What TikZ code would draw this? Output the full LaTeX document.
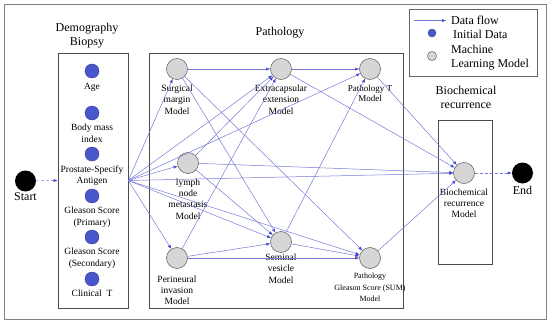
\documentclass[tikz,border=0pt]{standalone}
\usepackage{fontspec}
\setmainfont{Liberation Serif}
\usetikzlibrary{arrows.meta, positioning}
\definecolor{FlowBlue}{RGB}{118,122,214}
\definecolor{TipBlue}{RGB}{66,72,204}
\definecolor{DotBlue}{RGB}{74,86,204}
\definecolor{ModelGray}{RGB}{214,214,214}
\definecolor{FrameGray}{RGB}{130,130,130}

\begin{document}
\begin{tikzpicture}[x=1pt, y=-1pt, >={Latex[length=4pt,width=3.2pt,color=TipBlue]},
    panel/.style={draw=black!70, line width=0.6pt, inner sep=0pt},
    model/.style={circle, draw=black!65, line width=0.5pt, fill=ModelGray, minimum size=21pt, inner sep=0pt},
    datum/.style={circle, draw=DotBlue!70!black, line width=0.4pt, fill=DotBlue, minimum size=14pt, inner sep=0pt},
    terminal/.style={circle, fill=black, minimum size=21pt, inner sep=0pt},
    title/.style={font=\fontsize{12}{14.5}\selectfont, align=center, inner sep=0pt},
    caption/.style={font=\fontsize{9.5}{11.4}\selectfont, align=center, inner sep=1pt},
    flow/.style={->, draw=FlowBlue, line width=0.5pt}]
    \useasboundingbox (0,0) rectangle (550,324);
    % Outer frame
    \draw [FrameGray, line width=0.8pt] (4,4) rectangle (546.5,319.5);
    % Panels
    \node [panel, minimum width=70pt, minimum height=255pt] (demo) at (93,180.5) {};
    \node [panel, minimum width=254pt, minimum height=255pt] (patho) at (276,180.5) {};
    \node [panel, minimum width=54pt, minimum height=144pt] (recur) at (465,192) {};
    \node [title] (demoT) at (87,35.5) {Demography\\Biopsy};
    \node [title] (pathoT) at (280,33) {Pathology};
    \node [title, font=\fontsize{12}{14}\selectfont] (recurT) at (466,97) {Biochemical\\recurrence};
    % Initial data
    \node [datum] (age) at (92,71) {};
    \node [datum] (bmi) at (92,113) {};
    \node [datum] (psa) at (92,154) {};
    \node [datum] (gprim) at (92,196) {};
    \node [datum] (gsec) at (92,237) {};
    \node [datum] (ct) at (92,279) {};
    \node [caption, below=4pt of age] (ageL) {Age};
    \node [caption, below=3pt of bmi] (bmiL) {Body mass\\index};
    \node [caption, below=3.5pt of psa] (psaL) {Prostate-Specify\\Antigen};
    \node [caption, below=3pt of gprim] (gprimL) {Gleason Score\\(Primary)};
    \node [caption, below=3pt of gsec] (gsecL) {Gleason Score\\(Secondary)};
    \node [caption, below=2.5pt of ct] (ctL) {Clinical\ \ T};
    % Models
    \node [model] (surg) at (177,69) {};
    \node [model] (extra) at (281,69) {};
    \node [model] (patht) at (370,69) {};
    \node [model] (lymph) at (188,163) {};
    \node [model] (peri) at (177,258) {};
    \node [model] (seminal) at (281,242) {};
    \node [model] (gsum) at (370,258) {};
    \node [model] (biochem) at (464,173) {};
    \node [caption, below=4pt of surg] (surgL) {Surgical\\margin\\Model};
    \node [caption, below=4pt of extra] (extraL) {Extracapsular\\extension\\Model};
    \node [caption, below=4pt of patht, font=\fontsize{9}{10.5}\selectfont] (pathtL) {Pathology T\\Model};
    \node [caption, below=3.5pt of lymph] (lymphL) {lymph\\node\\metastasis\\Model};
    \node [caption, below=5.5pt of peri] (periL) {Perineural\\invasion\\Model};
    \node [caption, below=0pt of seminal] (seminalL) {Seminal\\vesicle\\Model};
    \node [caption, below=3pt of gsum, font=\fontsize{8}{11.5}\selectfont] (gsumL) {Pathology\\Gleason Score (SUM)\\Model};
    \node [caption, below=3.5pt of biochem] (biochemL) {Biochemical\\recurrence\\Model};
    % Start and end
    \node [terminal] (start) at (25.5,181) {};
    \node [terminal] (end) at (522.5,173) {};
    \node [title, below=1pt of start] (startL) {Start};
    \node [title, below=2pt of end] (endL) {End};
    \draw [flow, dashed, dash pattern=on 3pt off 2pt] (start) -- (demo.west);
    \draw [flow, dashed, dash pattern=on 3pt off 2pt] (biochem) -- (end);
    % Data flow
    \coordinate (fan) at (demo.east);
    \foreach \t in {surg, extra, patht, lymph, biochem, seminal, gsum, peri}
        \draw [flow] (fan) -- (\t);
    \foreach \s/\t in {surg/extra, surg/seminal, surg/gsum, extra/patht, extra/biochem,
        lymph/extra, lymph/biochem, lymph/seminal, peri/extra, peri/seminal, peri/gsum,
        seminal/patht, seminal/gsum, patht/biochem, gsum/biochem}
        \draw [flow] (\s) -- (\t);
    % Legend
    \node [panel, draw=black!60, minimum width=128pt, minimum height=67pt] (legend) at (473,42.5) {};
    \coordinate (legA) at (414,20.5);
    \coordinate (legB) at (446,20.5);
    \draw [flow] (legA) -- (legB);
    \node [title, anchor=west] (legFlow) at (451,20) {Data flow};
    \node [datum, minimum size=8pt] (legDot) at (432,33) {};
    \node [title, anchor=west] (legData) at (453,34.5) {Initial Data};
    \node [model, minimum size=9pt] (legModel) at (432,56) {};
    \node [title, anchor=west, align=left] (legML) at (451,57.5) {Machine\\Learning Model};
\end{tikzpicture}
\end{document}
